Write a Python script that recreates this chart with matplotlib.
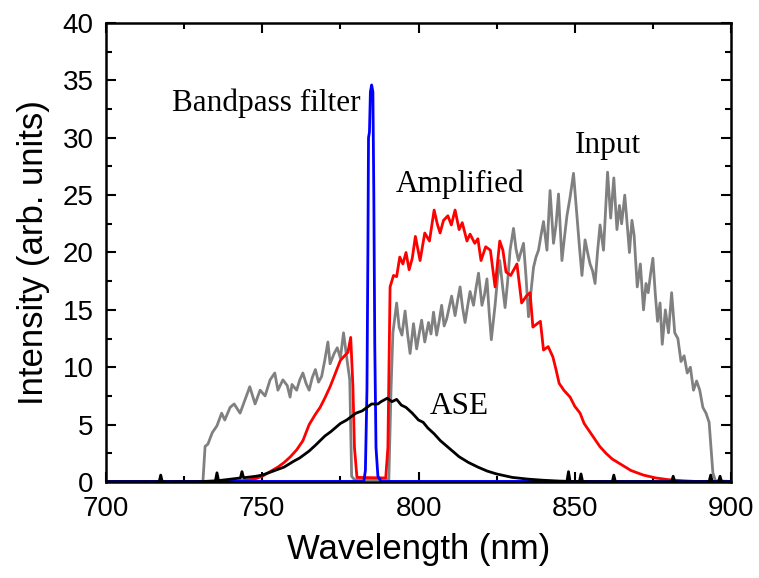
import matplotlib
matplotlib.use("Agg")
import matplotlib.pyplot as plt
from matplotlib.ticker import MultipleLocator

# Input spectrum (grey)
input_nm = [700, 731.0, 731.7, 732.6, 734.0, 735.5, 737.0, 738.0, 739.7, 741.0, 742.9, 744.5,
            746.0, 747.7, 749.3, 750.9, 752.5, 754.0, 755.0, 756.6, 758.0, 758.9, 759.5, 761.0,
            762.0, 763.0, 764.0, 765.0, 766.0, 767.0, 768.0, 769.0, 770.0, 771.0, 771.7, 773.0,
            774.0, 775.0, 776.0, 777.0, 778.0, 778.6, 779.5,
            790.5, 791.2, 791.8, 793.0, 793.8, 794.7, 795.7, 796.5, 797.3, 798.4, 799.4, 800.2,
            801.0, 802.0, 803.2, 804.0, 804.8, 805.8, 806.6, 807.4, 808.2, 809.0, 810.6, 811.7,
            812.5, 813.3, 814.1, 814.9, 815.7, 816.5, 817.6, 818.4, 819.2, 820.3, 821.1, 821.9,
            822.6, 823.3, 824.5, 825.3, 826.0, 827.0, 827.7, 828.5, 829.3, 830.4, 831.2, 832.0,
            833.6, 834.4, 835.2, 836.0, 836.8, 837.6, 838.4, 839.2, 840.0, 841.1, 842.1, 843.2,
            844.0, 844.8, 845.9, 846.7, 847.5, 848.5, 849.6, 850.7, 851.5, 852.3, 853.3, 854.1,
            854.9, 855.7, 856.5, 857.3, 858.1, 859.2, 860.5, 861.5, 862.5, 863.5, 864.3, 865.0,
            866.0, 866.8, 867.5, 868.3, 869.0, 870.0, 871.0, 872.0, 872.8, 873.5, 874.3, 875.0,
            875.8, 876.5, 877.3, 878.0, 879.0, 880.0, 881.0, 882.0, 883.0, 884.0, 885.0, 886.0,
            887.0, 888.0, 889.0, 890.0, 891.0, 892.0, 893.0, 893.6, 894.2, 895.0, 900]
input_int = [0.02, 0.02, 3.1, 3.3, 4.3, 4.9, 6.0, 5.4, 6.5, 6.8, 6.0, 7.2,
             8.3, 6.8, 8.0, 7.5, 8.9, 9.5, 8.0, 8.9, 8.4, 7.4, 8.5, 8.0,
             8.9, 9.5, 8.6, 8.0, 9.1, 9.8, 8.7, 9.2, 10.6, 12.2, 10.3, 11.2,
             11.7, 10.8, 13.0, 10.9, 8.9, 0.5, 0.2,
             0.2, 8.0, 13.0, 15.6, 13.5, 12.8, 14.9, 12.9, 11.2, 13.8, 11.6, 12.9,
             14.1, 12.2, 13.9, 12.9, 14.8, 12.8, 14.0, 15.4, 13.6, 14.2, 16.2, 14.5,
             15.8, 17.0, 15.2, 13.9, 15.3, 16.6, 15.4, 16.9, 18.2, 15.4, 16.3, 17.7,
             14.8, 12.4, 15.4, 17.8, 19.3, 16.8, 15.2, 17.4, 20.2, 22.1, 20.3, 19.3,
             20.8, 17.9, 14.4, 16.6, 18.7, 19.6, 20.2, 21.5, 22.7, 20.2, 25.4, 20.8,
             22.4, 25.1, 19.3, 21.3, 23.2, 24.8, 26.9, 23.2, 20.5, 18.0, 21.1, 20.0,
             19.0, 18.4, 17.3, 20.1, 22.4, 20.2, 27.0, 23.0, 26.5, 22.0, 24.1, 22.5,
             25.0, 22.4, 20.0, 22.8, 21.5, 17.0, 19.0, 15.0, 17.3, 16.5, 18.2, 19.5,
             16.3, 14.0, 15.6, 12.0, 15.0, 13.0, 16.5, 13.0, 12.5, 10.5, 11.0, 9.5,
             10.0, 8.0, 8.8, 8.0, 6.5, 6.0, 5.2, 3.0, 0.8, 0.1, 0.05]

# Amplified spectrum (red)
amp_nm = [700, 735, 740, 745, 748, 750, 752.5, 755, 757, 759, 761, 763, 765, 767, 768.5,
          770, 771.7, 773, 775, 776, 777.4, 778.3, 779.0, 779.5, 780.3, 789.5, 790.2, 790.9,
          792, 793, 794, 795, 796, 797, 798, 799, 800.5, 802, 803.5, 805, 806, 806.9, 808,
          809.4, 810.5, 811.7, 813, 814, 815.5, 816.5, 818, 819, 820, 821.5, 823, 824.5, 826,
          827, 828, 829.5, 831.5, 833, 834.5, 835.7, 836.6, 838, 839, 840, 841.5, 843, 844,
          845, 846.5, 848.5, 850, 851.7, 853, 855, 856.5, 858, 860, 862, 865, 868, 872, 876,
          880, 885, 890, 900]
amp_int = [0.0, 0.0, 0.05, 0.15, 0.3, 0.5, 0.9, 1.3, 1.7, 2.2, 2.8, 3.6, 5.0, 5.9, 6.5,
           7.3, 8.3, 9.2, 10.6, 10.9, 11.3, 12.6, 8.4, 3.0, 0.4, 0.35, 3.0, 17.0,
           18.0, 17.9, 19.6, 19.0, 20.0, 18.5, 19.5, 21.4, 19.3, 21.7, 21.0, 23.7, 22.5, 21.7, 22.8,
           23.2, 22.4, 23.7, 22.0, 22.6, 21.0, 21.6, 20.8, 21.2, 19.3, 20.5, 20.2, 17.0, 21.0,
           20.2, 18.3, 18.0, 19.0, 15.6, 16.2, 16.5, 13.5, 13.8, 14.0, 11.5, 11.8, 10.9, 9.8,
           8.6, 8.0, 7.4, 6.6, 6.0, 5.1, 4.3, 3.7, 3.1, 2.5, 2.0, 1.5, 1.0, 0.6, 0.35,
           0.2, 0.1, 0.03, 0.0]

# ASE (black)
ase_nm = [700, 717, 717.5, 718, 730, 735, 735.5, 736, 740, 743, 743.5, 744, 745, 748, 750,
          752, 755, 757, 760, 762, 765, 767, 770, 772, 775, 777, 780, 782, 785, 787, 788,
          790, 791.5, 793, 794.5, 796, 798, 800, 801.5, 803, 805, 807, 810, 813, 816, 819,
          822, 825, 830, 835, 840, 845, 847.5, 848, 848.5, 850, 851.5, 852, 852.5, 855, 862,
          862.5, 863, 870, 881, 881.5, 882, 890, 893, 893.5, 894, 896, 896.5, 897, 900]
ase_int = [0.02, 0.02, 0.6, 0.02, 0.03, 0.1, 0.8, 0.12, 0.25, 0.35, 0.9, 0.38, 0.4, 0.5, 0.6,
           0.8, 1.1, 1.3, 1.8, 2.1, 2.7, 3.2, 4.0, 4.4, 5.1, 5.4, 6.0, 6.2, 6.8, 6.8, 7.0,
           7.3, 7.0, 7.2, 6.7, 6.5, 6.0, 5.4, 5.2, 4.7, 4.2, 3.6, 2.9, 2.2, 1.7, 1.3,
           0.95, 0.7, 0.4, 0.25, 0.15, 0.08, 0.06, 0.9, 0.05, 0.04, 0.04, 0.7, 0.04, 0.03, 0.02,
           0.6, 0.02, 0.02, 0.02, 0.5, 0.02, 0.02, 0.02, 0.6, 0.02, 0.02, 0.5, 0.02, 0.02]

# Bandpass filter (blue)
bpf_nm = [700, 782.5, 783.0, 783.5, 783.8, 784.0, 784.3, 784.6, 785.0, 785.4, 785.7, 786.0,
          786.4, 787.0, 788.0, 900]
bpf_int = [0.05, 0.05, 1.0, 8.0, 20.0, 30.0, 30.5, 34.0, 34.6, 34.0, 25.0, 12.0,
           3.0, 0.5, 0.05, 0.05]

plt.rcParams["font.family"] = ["Liberation Sans", "DejaVu Sans"]

fig = plt.figure(figsize=(7.59, 5.78), dpi=100)
ax = fig.add_axes([0.1397, 0.1661, 0.8234, 0.7941])

ax.plot(input_nm, input_int, color="#808080", lw=2.0)
ax.plot(amp_nm, amp_int, color="#ff0000", lw=2.0)
ax.plot(bpf_nm, bpf_int, color="#0000ff", lw=2.0)
ax.plot(ase_nm, ase_int, color="black", lw=2.0)

serif = {"family": "Liberation Serif", "size": 22.5}
ax.text(751.3, 32.3, "Bandpass filter", ha="center", va="baseline", fontdict=serif)
ax.text(860.6, 28.7, "Input", ha="center", va="baseline", fontdict=serif)
ax.text(813.3, 25.3, "Amplified", ha="center", va="baseline", fontdict=serif)
ax.text(812.9, 5.9, "ASE", ha="center", va="baseline", fontdict=serif)

ax.set_xlim(700, 900)
ax.set_ylim(0, 40)
ax.xaxis.set_major_locator(MultipleLocator(50))
ax.xaxis.set_minor_locator(MultipleLocator(25))
ax.yaxis.set_major_locator(MultipleLocator(5))
ax.yaxis.set_minor_locator(MultipleLocator(2.5))
ax.tick_params(which="both", direction="in", top=True, right=True, width=1.5,
               labelsize=20)
ax.tick_params(axis="x", which="both", pad=10)
ax.tick_params(axis="y", which="both", pad=9)
ax.tick_params(which="major", length=7)
ax.tick_params(which="minor", length=4)
for sp in ax.spines.values():
    sp.set_linewidth(1.8)

ax.set_xlabel("Wavelength (nm)", fontsize=25, labelpad=8)
ax.set_ylabel("Intensity (arb. units)", fontsize=25, labelpad=9)

fig.savefig("out.png", dpi=100)
